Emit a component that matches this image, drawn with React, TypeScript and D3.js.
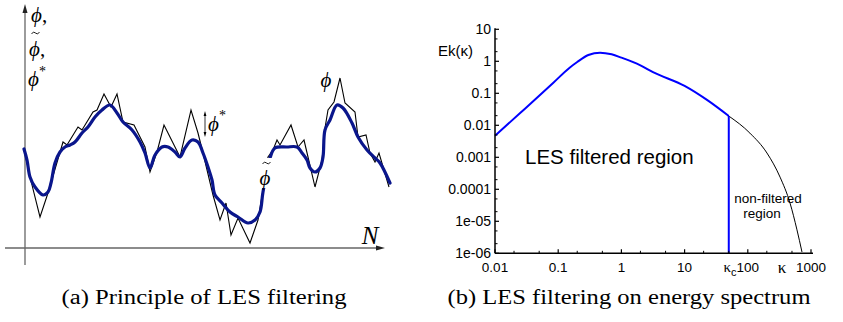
import React from "react";
import * as d3 from "d3";

// (a) raw signal phi (black) and filtered signal phi~ (blue): N position, value above the N axis
const rawN = [0, 8, 16, 24, 39, 43, 54, 58, 69, 73, 80, 87, 93, 99, 110, 121, 126, 133, 140, 146, 156, 167, 174, 179, 189, 196, 202, 207, 214, 226, 234, 239, 244, 249, 253, 256, 267, 274, 280, 284, 291, 298, 301, 304, 310, 316, 321, 331, 334, 342, 346, 351, 355, 365];
const rawPhi = [98, 63, 31, 55, 106, 103, 121, 118, 136, 138, 154, 141, 154, 126, 123, 101, 76, 96, 123, 111, 91, 138, 115, 95, 53, 28, 45, 13, 30, 5, 28, 58, 91, 98, 108, 103, 123, 101, 108, 91, 61, 88, 120, 138, 146, 170, 145, 136, 111, 113, 95, 86, 95, 61];
const filtN = [0, 3, 6, 11, 19, 24, 27, 31, 36, 41, 46, 51, 58, 64, 71, 78, 86, 93, 99, 108, 116, 121, 126, 131, 138, 144, 151, 156, 161, 168, 174, 179, 184, 188, 191, 198, 206, 214, 224, 231, 236, 239, 246, 251, 263, 273, 278, 283, 286, 291, 296, 299, 301, 306, 313, 319, 328, 334, 343, 351, 356, 366];
const filtPhi = [99, 88, 71, 61, 53, 56, 65, 85, 96, 101, 103, 106, 115, 121, 131, 138, 143, 135, 126, 118, 106, 95, 80, 93, 101, 101, 96, 91, 100, 108, 106, 95, 81, 68, 53, 45, 36, 31, 25, 28, 36, 56, 90, 100, 101, 101, 95, 88, 80, 76, 80, 91, 118, 128, 143, 140, 125, 111, 98, 90, 85, 65];

// (b) energy spectrum: resolved part (blue) up to kappa_c, then the unresolved tail (black)
const kResolved = [0.01, 0.025, 0.083, 0.15, 0.2, 0.3, 0.46, 0.7, 1, 2, 3.16, 10, 22.6, 50];
const eResolved = [0.0047, 0.0242, 0.21, 0.62, 0.95, 1.57, 1.86, 1.65, 1.3, 0.75, 0.46, 0.17, 0.062, 0.0195];
const kTail = [50, 108, 201, 324, 466, 600, 720];
const eTail = [0.0195, 0.0057, 0.00136, 0.00024, 0.000037, 0.0000054, 0.0000011];
const kCut = 50;

const yTicks = [10, 1, 0.1, 0.01, 0.001, 0.0001, 0.00001, 0.000001];
const yTickLabels = ["10", "1", "0.1", "0.01", "0.001", "0.0001", "1e-05", "1e-06"];
const xTicks = [0.01, 0.1, 1, 10, 100, 1000];
const xTickLabels = ["0.01", "0.1", "1", "10", "100", "1000"];

const sans = "'Liberation Sans', Arial, sans-serif";
const serif = "'Liberation Serif', 'DejaVu Serif', serif";

// small tilde accent drawn as a stroke, centred on (cx, cy)
const tilde = (cx: number, cy: number) =>
  `M${cx - 4},${cy + 1} Q${cx - 2},${cy - 2.5} ${cx},${cy} T${cx + 4},${cy - 1}`;

const App = () => {
  // left panel scales
  const xa = d3.scaleLinear().domain([0, 366]).range([24, 390]);
  const ya = d3.scaleLinear().domain([0, 250]).range([248, -2]);

  const rawLine = d3
    .line<number>()
    .x((d, i) => xa(rawN[i]))
    .y((d) => ya(d));
  const filtLine = d3
    .line<number>()
    .x((d, i) => xa(filtN[i]))
    .y((d) => ya(d))
    .curve(d3.curveCatmullRom.alpha(0.5));

  // right panel scales
  const xb = d3.scaleLog().domain([0.01, 1000]).range([495, 811]);
  const yb = d3.scaleLog().domain([1e-6, 10]).range([253.3, 29.3]);

  const resolvedLine = d3
    .line<number>()
    .x((d, i) => xb(kResolved[i]))
    .y((d) => yb(d))
    .curve(d3.curveMonotoneX);
  const tailLine = d3
    .line<number>()
    .x((d, i) => xb(kTail[i]))
    .y((d) => yb(d))
    .curve(d3.curveMonotoneX);

  const minor = (decades: number[]) =>
    decades.slice(0, -1).flatMap((v) => [v * 2, v * 5]);
  const xMinor = minor(xTicks);
  const yMinor = minor([...yTicks].reverse());

  const x0 = xb.range()[0];
  const y0 = yb.range()[0];

  return (
    <svg
      width={843}
      height={322}
      style={{ position: "absolute", left: 0, top: 0, background: "#fff" }}
    >
      {/* ---------- (a) principle of LES filtering ---------- */}
      <g>
        <line x1={25} y1={265} x2={25} y2={10} stroke="#666" strokeWidth={1.3} />
        <polygon points="25,4 22.5,13 27.5,13" fill="#222" />
        <line x1={5} y1={248} x2={378} y2={248} stroke="#666" strokeWidth={1.3} />
        <polygon points="385,248 376,245.5 376,250.5" fill="#222" />

        <path d={rawLine(rawPhi) || ""} fill="none" stroke="#000" strokeWidth={1.1} />
        <path d={filtLine(filtPhi) || ""} fill="none" stroke="#0a168c" strokeWidth={3.2} strokeLinecap="round" />

        {/* label over the curves */}
        <rect x={258} y={158} width={14} height={30} fill="#fff" />
        <path d={tilde(266.5, 163)} fill="none" stroke="#000" strokeWidth={0.9} />
        <text x={265} y={185} fontFamily={serif} fontStyle="italic" fontSize={21} textAnchor="middle">ϕ</text>

        <text x={326} y={87} fontFamily={serif} fontStyle="italic" fontSize={21} textAnchor="middle">ϕ</text>

        <line x1={205} y1={114} x2={205} y2={134} stroke="#000" strokeWidth={0.8} />
        <polygon points="205,111 203.6,116 206.4,116" fill="#000" />
        <polygon points="205,137 203.6,132 206.4,132" fill="#000" />
        <text x={208} y={131} fontFamily={serif} fontStyle="italic" fontSize={21}>
          ϕ<tspan fontStyle="normal" fontSize={14} dy={-11}>*</tspan>
        </text>

        <text x={31} y={22} fontFamily={serif} fontSize={21}>
          <tspan fontStyle="italic">ϕ</tspan>,
        </text>
        <path d={tilde(35.5, 33)} fill="none" stroke="#000" strokeWidth={0.9} />
        <text x={29} y={56} fontFamily={serif} fontSize={21}>
          <tspan fontStyle="italic">ϕ</tspan>,
        </text>
        <text x={28} y={86} fontFamily={serif} fontSize={21}>
          <tspan fontStyle="italic">ϕ</tspan>
          <tspan fontSize={14} dy={-10}>*</tspan>
        </text>

        <text x={370} y={244} fontFamily={serif} fontStyle="italic" fontSize={25} textAnchor="middle">N</text>

        <text x={204} y={304} fontFamily={serif} fontSize={20} textAnchor="middle" textLength={285} lengthAdjust="spacingAndGlyphs">
          (a) Principle of LES filtering
        </text>
      </g>

      {/* ---------- (b) LES filtering on energy spectrum ---------- */}
      <g>
        <path d={resolvedLine(eResolved) || ""} fill="none" stroke="#0000ff" strokeWidth={2} />
        <path d={tailLine(eTail) || ""} fill="none" stroke="#000" strokeWidth={1} />
        <line
          x1={xb(kCut)}
          x2={xb(kCut)}
          y1={yb(eResolved[eResolved.length - 1])}
          y2={y0}
          stroke="#0000ff"
          strokeWidth={2}
        />

        <line x1={x0} y1={y0} x2={x0} y2={yb(10) - 1} stroke="#000" strokeWidth={1.5} />
        <line x1={x0} y1={y0} x2={xb(1000) + 2} y2={y0} stroke="#000" strokeWidth={1.5} />

        {yTicks.map((t, i) => (
          <g key={"y" + i}>
            <line x1={x0} x2={x0 + 4} y1={yb(t)} y2={yb(t)} stroke="#000" strokeWidth={1.2} />
            <text x={x0 - 4} y={yb(t) + 5} fontFamily={sans} fontSize={14} textAnchor="end">
              {yTickLabels[i]}
            </text>
          </g>
        ))}
        {yMinor.map((t, i) => (
          <line key={"ym" + i} x1={x0} x2={x0 + 2.5} y1={yb(t)} y2={yb(t)} stroke="#000" strokeWidth={1} />
        ))}
        {xTicks.map((t, i) => (
          <g key={"x" + i}>
            <line x1={xb(t)} x2={xb(t)} y1={y0} y2={y0 - 4} stroke="#000" strokeWidth={1.2} />
            <text x={xb(t)} y={y0 + 19} fontFamily={sans} fontSize={13.5} textAnchor="middle">
              {xTickLabels[i]}
            </text>
          </g>
        ))}
        {xMinor.map((t, i) => (
          <line key={"xm" + i} x1={xb(t)} x2={xb(t)} y1={y0} y2={y0 - 2.5} stroke="#000" strokeWidth={1} />
        ))}

        <text x={438} y={56} fontFamily={sans} fontSize={15}>Ek(κ)</text>
        <text x={730} y={272} fontFamily={serif} fontSize={15} textAnchor="middle">κ<tspan fontFamily={sans} fontSize={11} dy={4}>c</tspan></text>
        <text x={782} y={273} fontFamily={serif} fontSize={17} textAnchor="middle">κ</text>

        <text x={525} y={164} fontFamily={sans} fontSize={20.5}>LES filtered region</text>
        <text x={768} y={203} fontFamily={sans} fontSize={13.5} textAnchor="middle">non-filtered</text>
        <text x={762} y={218} fontFamily={sans} fontSize={13.5} textAnchor="middle">region</text>

        <text x={629} y={304} fontFamily={serif} fontSize={20} textAnchor="middle" textLength={363} lengthAdjust="spacingAndGlyphs">
          (b) LES filtering on energy spectrum
        </text>
      </g>
    </svg>
  );
};

export default App;
